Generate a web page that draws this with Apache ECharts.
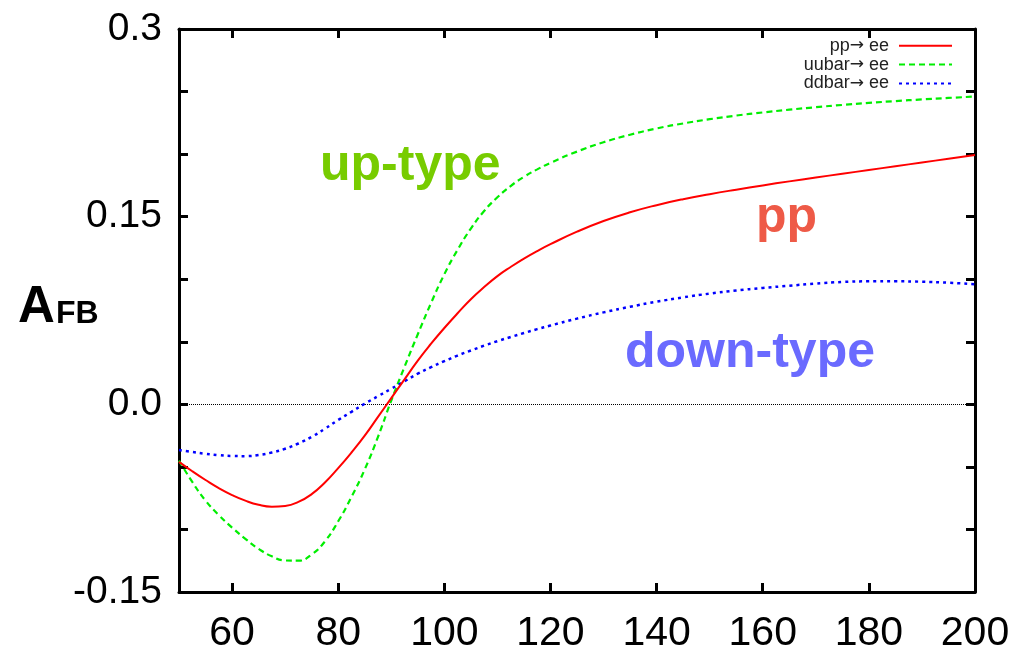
<!DOCTYPE html>
<html>
<head>
<meta charset="utf-8">
<script src="https://cdn.jsdelivr.net/npm/echarts@6/dist/echarts.min.js"></script>
<style>html,body{margin:0;padding:0;background:#fff}#c{width:1015px;height:652px}</style>
</head>
<body>
<div id="c"></div>
<script>
const xs = [50,52.5,55,57.5,60,62.5,65,67.5,70,72.5,75,77.5,80,82.5,85,87.5,90,92.5,95,97.5,100,
            102.5,105,107.5,110,112.5,115,117.5,120,125,130,135,140,145,150,155,160,165,170,175,180,185,190,195,200];
const ppValues    = [-0.046,-0.0535,-0.0605,-0.067,-0.0725,-0.077,-0.0803,-0.0818,-0.0812,-0.078,-0.0718,-0.0625,-0.051,-0.0385,-0.025,-0.010,0.005,0.020,0.035,0.0485,0.061,
                     0.0728,0.084,0.0937,0.1025,0.1098,0.1165,0.1225,0.128,0.138,0.1465,0.1535,0.1592,0.164,0.168,0.1716,0.175,0.1782,0.1813,0.1843,0.1873,0.1903,0.1933,0.1963,0.1993];
const uubarValues = [-0.045,-0.062,-0.077,-0.0885,-0.0985,-0.1075,-0.1155,-0.1215,-0.1248,-0.125,-0.120,-0.1095,-0.0935,-0.074,-0.052,-0.026,0.003,0.030,0.056,0.081,0.104,
                     0.1235,0.1405,0.1545,0.1655,0.1745,0.1818,0.1878,0.193,0.202,0.2095,0.2155,0.2205,0.2245,0.2279,0.2308,0.2333,0.2355,0.2375,0.2393,0.2409,0.2424,0.2437,0.2449,0.246];
const ddbarValues = [-0.0365,-0.0381,-0.0395,-0.0406,-0.0413,-0.0414,-0.0405,-0.0385,-0.0355,-0.0313,-0.026,-0.0195,-0.0125,-0.006,0.0005,0.0065,0.0125,0.0185,0.0245,0.0297,0.0345,
                     0.039,0.043,0.0469,0.0505,0.0538,0.057,0.0601,0.063,0.0685,0.0735,0.078,0.082,0.0855,0.0885,0.091,0.093,0.0948,0.0965,0.0978,0.0983,0.0983,0.098,0.0972,0.096];
const seriesNames = ['pp\u2192 ee','uubar\u2192 ee','ddbar\u2192 ee'];
const xTicks = [60,80,100,120,140,160,180,200];
const yLabels = [-0.15,0,0.15,0.3];
const yTicks = [-0.15,-0.1,-0.05,0,0.05,0.1,0.15,0.2,0.25,0.3];
const annotations = ['up-type','pp','down-type'];

const FONT = '"Liberation Sans", Arial, Helvetica, sans-serif';
const pairs = v => xs.map((x,i)=>[x,v[i]]);
const yFmt = v => { if (Math.abs(v)<1e-9) return '0.0'; if (Math.abs(v-0.3)<1e-9) return '0.3'; return v.toFixed(2); };

const axisLine = {show:true, onZero:false, lineStyle:{color:'#000', width:3}};
const tickStyle = {show:true, inside:true, length:9, lineStyle:{color:'#000', width:3}};

const chart = echarts.init(document.getElementById('c'), null, {renderer:'canvas'});
chart.setOption({
  backgroundColor:'#fff',
  animation:false,
  textStyle:{fontFamily:FONT},
  grid:{left:179, right:40, top:29, bottom:60, containLabel:false, outerBoundsMode:'none'},
  legend:{
    orient:'vertical', align:'right', right:62, top:36.8, padding:0,
    itemWidth:53, itemHeight:10, itemGap:0.8,
    itemStyle:{opacity:0},
    formatter: n => n.replace('\u2192','{ar|\u2192}'),
    textStyle:{fontSize:18, color:'#222', fontFamily:FONT, padding:[0,5,0,0],
      rich:{ar:{fontFamily:'"DejaVu Sans", sans-serif', fontSize:17, color:'#222'}}},
    data:seriesNames
  },
  xAxis:[
    {type:'value', min:50, max:200, position:'bottom', axisLine,
     axisTick:Object.assign({customValues:xTicks}, tickStyle),
     axisLabel:{customValues:xTicks, fontSize:41, color:'#000', margin:21, fontFamily:FONT},
     splitLine:{show:false}},
    {type:'value', min:50, max:200, position:'top', axisLine,
     axisTick:Object.assign({customValues:xTicks}, tickStyle),
     axisLabel:{show:false}, splitLine:{show:false}}
  ],
  yAxis:[
    {type:'value', min:-0.15, max:0.3, position:'left', axisLine,
     axisTick:Object.assign({customValues:yTicks}, tickStyle),
     axisLabel:{customValues:yLabels, formatter:yFmt, fontSize:39, color:'#000', margin:17, fontFamily:FONT},
     splitLine:{show:false}},
    {type:'value', min:-0.15, max:0.3, position:'right', axisLine,
     axisTick:Object.assign({customValues:yTicks}, tickStyle),
     axisLabel:{show:false}, splitLine:{show:false}}
  ],
  series:[
    {name:seriesNames[0], type:'line', data:pairs(ppValues), smooth:0.5, symbol:'none', color:'#ff0000',
     lineStyle:{color:'#ff0000', width:2, type:'solid'}, z:4,
     markLine:{silent:true, symbol:'none', label:{show:false}, lineStyle:{color:'#000', width:1, type:'dotted'}, data:[{yAxis:0}], z:1}},
    {name:seriesNames[1], type:'line', data:pairs(uubarValues), smooth:0.5, symbol:'none', color:'#00ee00',
     lineStyle:{color:'#00ee00', width:2.2, type:[6,4]}, z:3},
    {name:seriesNames[2], type:'line', data:pairs(ddbarValues), smooth:0.5, symbol:'none', color:'#0000ff',
     lineStyle:{color:'#0000ff', width:2.5, type:[3,4]}, z:3}
  ],
  graphic:[
    {type:'text', left:320, top:141, style:{text:annotations[0], font:'bold 50px '+FONT, fill:'#77cc00'}},
    {type:'text', left:756, top:193, style:{text:annotations[1], font:'bold 50px '+FONT, fill:'#ee5a47'}},
    {type:'text', left:625, top:328, style:{text:annotations[2], font:'bold 50px '+FONT, fill:'#6a6aff'}},
    {type:'text', left:18, top:282, style:{text:'A', font:'bold 51px '+FONT, fill:'#000'}},
    {type:'text', left:56, top:298, style:{text:'FB', font:'bold 32px '+FONT, fill:'#000'}}
  ]
});
</script>
</body>
</html>
